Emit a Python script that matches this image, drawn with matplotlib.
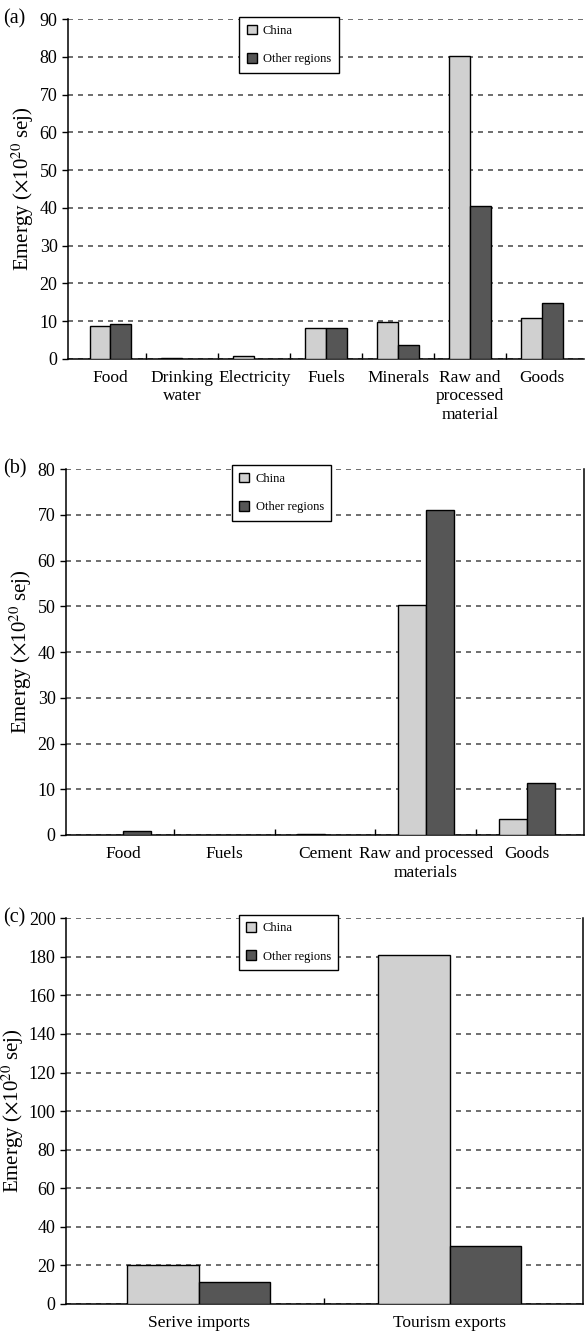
import numpy as np
import matplotlib.pyplot as plt

# dati (x10^20 sej)
cat_a = ['Food', 'Drinking\nwater', 'Electricity', 'Fuels', 'Minerals',
         'Raw and\nprocessed\nmaterial', 'Goods']
china_a = [8.6, 0.3, 0.9, 8.2, 9.9, 80.3, 10.8]
other_a = [9.2, 0.0, 0.0, 8.3, 3.7, 40.5, 14.8]

cat_b = ['Food', 'Fuels', 'Cement', 'Raw and processed\nmaterials', 'Goods']
china_b = [0.0, 0.0, 0.3, 50.4, 3.4]
other_b = [0.9, 0.0, 0.0, 71.0, 11.4]

cat_c = ['Serive imports', 'Tourism exports']
china_c = [20.3, 180.8]
other_c = [11.3, 30.2]

plt.rcParams['font.family'] = ['Liberation Serif', 'DejaVu Serif']
plt.rcParams['mathtext.fontset'] = 'stix'

col_china = '#d0d0d0'
col_other = '#565656'

fig = plt.figure(figsize=(5.86, 13.33), dpi=100)


def pannello(rect, cats, china, other, ymax, ystep, width, xpad, right_spine, leg_anchor, lab, ylab_x):
    ax = fig.add_axes(rect)
    x = np.arange(len(cats))
    # le barre a zero non si disegnano
    ch = np.ma.masked_equal(np.array(china, dtype=float), 0)
    ot = np.ma.masked_equal(np.array(other, dtype=float), 0)
    b1 = ax.bar(x - width / 2, ch, width, color=col_china, edgecolor='black', linewidth=1.0,
                label='China', zorder=3)
    b2 = ax.bar(x + width / 2, ot, width, color=col_other, edgecolor='black', linewidth=1.0,
                label='Other regions', zorder=3)
    ax.set_ylim(0, ymax)
    ax.set_xlim(-0.5 - xpad, len(cats) - 0.5 + xpad)
    ax.set_yticks(np.arange(0, ymax + 1, ystep))
    ax.yaxis.grid(True, linestyle=(0, (3, 3)), color='#555555', linewidth=1.2, zorder=0)
    ax.set_axisbelow(True)
    ax.set_xticks(x)
    ax.set_xticklabels(cats, fontsize=12.5, va='top')
    ax.tick_params(axis='x', which='major', length=0, pad=8)
    ax.set_xticks(np.arange(0.5, len(cats) - 1, 1.0), minor=True)
    ax.tick_params(axis='x', which='minor', length=4, direction='in', width=1)
    ax.tick_params(axis='y', labelsize=13, length=4, direction='out', width=1)
    ax.spines['top'].set_visible(False)
    ax.spines['right'].set_visible(right_spine)
    for s in ['left', 'bottom', 'right']:
        ax.spines[s].set_linewidth(1.1)
    ax.set_ylabel(r'Emergy ($\times$10$^{20}$ sej)', fontsize=15)
    ax.yaxis.set_label_coords(ylab_x, 0.5)
    fig.legend(handles=[b1, b2], loc='upper left', bbox_to_anchor=leg_anchor, fontsize=9,
               frameon=True, fancybox=False, edgecolor='black', framealpha=1,
               handlelength=0.8, handleheight=0.8, labelspacing=1.3, borderpad=0.6,
               handletextpad=0.5)
    fig.text(0.006, rect[1] + rect[3], lab, fontsize=14.5, va='center', ha='left')
    return ax


pannello([0.116, 0.7307, 0.881, 0.255], cat_a, china_a, other_a, 90, 10, 0.29, 0.09, False,
         (0.3976, 0.9917), '(a)', -0.062)
pannello([0.1126, 0.3736, 0.884, 0.2744], cat_b, china_b, other_b, 80, 10, 0.28, 0.065, True,
         (0.385, 0.6557), '(b)', -0.062)
pannello([0.1126, 0.0218, 0.882, 0.2893], cat_c, china_c, other_c, 200, 20, 0.285, 0.03, True,
         (0.397, 0.3186), '(c)', -0.077)

fig.savefig('out.png', dpi=100)
